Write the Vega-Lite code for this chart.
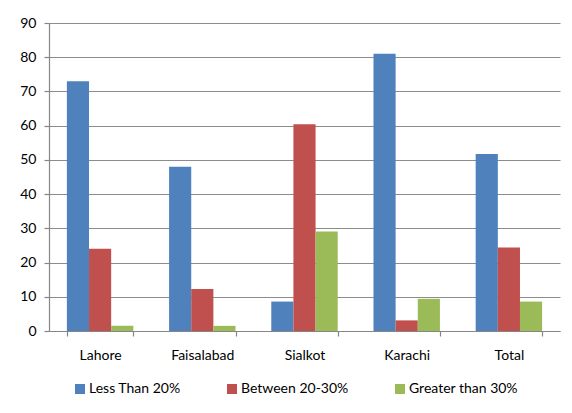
{
  "$schema": "https://vega.github.io/schema/vega-lite/v6.json",
  "autosize": "none",
  "width": 511,
  "height": 308,
  "padding": {"left": 49, "top": 23, "right": 12, "bottom": 82},
  "background": "white",
  "data": {
    "values": [
      {"city": "Lahore", "group": "Less Than 20%", "value": 73.0},
      {"city": "Lahore", "group": "Between 20-30%", "value": 24.0},
      {"city": "Lahore", "group": "Greater than 30%", "value": 1.5},
      {"city": "Faisalabad", "group": "Less Than 20%", "value": 48.0},
      {"city": "Faisalabad", "group": "Between 20-30%", "value": 12.3},
      {"city": "Faisalabad", "group": "Greater than 30%", "value": 1.5},
      {"city": "Sialkot", "group": "Less Than 20%", "value": 8.6},
      {"city": "Sialkot", "group": "Between 20-30%", "value": 60.4},
      {"city": "Sialkot", "group": "Greater than 30%", "value": 29.1},
      {"city": "Karachi", "group": "Less Than 20%", "value": 81.0},
      {"city": "Karachi", "group": "Between 20-30%", "value": 3.1},
      {"city": "Karachi", "group": "Greater than 30%", "value": 9.4},
      {"city": "Total", "group": "Less Than 20%", "value": 51.7},
      {"city": "Total", "group": "Between 20-30%", "value": 24.4},
      {"city": "Total", "group": "Greater than 30%", "value": 8.6}
    ]
  },
  "mark": {"type": "bar"},
  "encoding": {
    "x": {
      "field": "city",
      "type": "nominal",
      "sort": ["Lahore", "Faisalabad", "Sialkot", "Karachi", "Total"],
      "scale": {"paddingInner": 0.35, "paddingOuter": 0.175},
      "axis": {
        "title": null,
        "labelAngle": 0,
        "tickBand": "extent",
        "tickSize": 5,
        "tickColor": "#868686",
        "domainColor": "#868686",
        "labelPadding": 12,
        "grid": false
      }
    },
    "xOffset": {
      "field": "group",
      "type": "nominal",
      "sort": ["Less Than 20%", "Between 20-30%", "Greater than 30%"],
      "scale": {"paddingInner": 0, "paddingOuter": 0}
    },
    "y": {
      "field": "value",
      "type": "quantitative",
      "scale": {"domain": [0, 90], "nice": false},
      "axis": {
        "title": null,
        "values": [0, 10, 20, 30, 40, 50, 60, 70, 80, 90],
        "tickSize": 5,
        "tickColor": "#868686",
        "domainColor": "#868686",
        "gridColor": "#8c8c8c",
        "gridWidth": 1.2,
        "labelPadding": 8
      }
    },
    "color": {
      "field": "group",
      "type": "nominal",
      "sort": ["Less Than 20%", "Between 20-30%", "Greater than 30%"],
      "scale": {
        "domain": ["Less Than 20%", "Between 20-30%", "Greater than 30%"],
        "range": ["#4F81BD", "#C0504D", "#9BBB59"]
      },
      "legend": {
        "title": null,
        "orient": "none",
        "direction": "horizontal",
        "legendX": 24,
        "legendY": 359,
        "symbolType": "square",
        "symbolSize": 100,
        "symbolStrokeWidth": 0,
        "labelOffset": 2,
        "columnPadding": 44
      }
    }
  },
  "config": {
    "font": "Lato",
    "view": {"stroke": null},
    "axis": {
      "labelFont": "Lato",
      "labelFontSize": 14,
      "labelColor": "#000000",
      "domainWidth": 1.2,
      "tickWidth": 1.2
    },
    "legend": {
      "labelFont": "Lato",
      "labelFontSize": 14,
      "labelColor": "#000000"
    }
  }
}
